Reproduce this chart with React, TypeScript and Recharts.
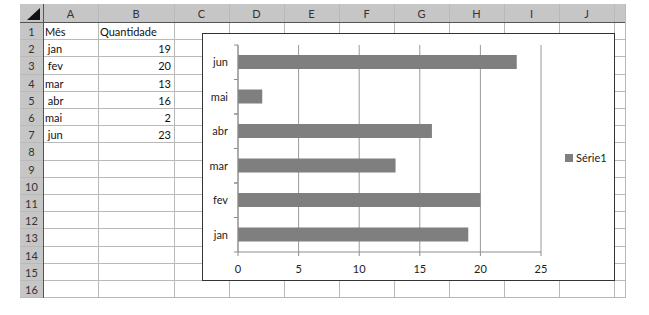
import { BarChart, Bar, XAxis, YAxis, CartesianGrid, Legend } from "recharts";

// worksheet contents
const columnLetters = ["A", "B", "C", "D", "E", "F", "G", "H", "I", "J", ""];
const rowNumbers = [1, 2, 3, 4, 5, 6, 7, 8, 9, 10, 11, 12, 13, 14, 15, 16];
const cellLabels = ["Mês", " jan", " fev", "mar", " abr", "mai", " jun"];
const cellQty = ["Quantidade", "19", "20", "13", "16", "2", "23"];

// chart data
const months = ["jan", "fev", "mar", "abr", "mai", "jun"];
const quantidade = [19, 20, 13, 16, 2, 23];
const xTicks = [0, 5, 10, 15, 20, 25];
const seriesName = "Série1";

const data = months.map((m, i) => ({ mes: m, valor: quantidade[i] }));

const FONT = "Lato, 'Open Sans', sans-serif";
const COL_X = [20, 43, 98, 174, 229, 284, 339, 394, 449, 504, 559, 614, 625];
const HEAD_TOP = 4;
const HEAD_BOT = 23;
const ROW_H = 17.2;
const GRID = "#b9b9b9";
const HEAD_BG = "#c6c6c6";

const CHART_W = 413;
const CHART_H = 248;
const PLOT_TOP = 12;
const PLOT_BOTTOM = 29;
const BAND = (CHART_H - PLOT_TOP - PLOT_BOTTOM) / months.length;

const CategoryTick = (props: any) => {
  const { x, y, payload } = props;
  const axisX = x + 10;
  return (
    <g>
      <line x1={axisX - 4} x2={axisX} y1={y - BAND / 2} y2={y - BAND / 2} stroke="#8c8c8c" />
      <line x1={axisX - 4} x2={axisX} y1={y + BAND / 2} y2={y + BAND / 2} stroke="#8c8c8c" />
      <text x={x} y={y} dy="0.35em" textAnchor="end" fontSize={11} fill="#222" fontFamily={FONT}>
        {payload.value}
      </text>
    </g>
  );
};

const LegendBox = () => (
  <div style={{ display: "flex", alignItems: "center", fontSize: 11, fontFamily: FONT, color: "#222" }}>
    <span style={{ width: 8, height: 8, background: "#7f7f7f", marginRight: 3 }} />
    {seriesName}
  </div>
);

export default function App() {
  const lastRowY = HEAD_BOT + rowNumbers.length * ROW_H;
  return (
    <div style={{ position: "absolute", left: 0, top: 0, width: 649, height: 315, background: "#fff", fontFamily: FONT, fontSize: 11, color: "#111" }}>
      {/* column header */}
      <div style={{ position: "absolute", left: COL_X[0], top: HEAD_TOP, width: COL_X[COL_X.length - 1] - COL_X[0], height: HEAD_BOT - HEAD_TOP, background: HEAD_BG }} />
      {/* row header */}
      <div style={{ position: "absolute", left: COL_X[0], top: HEAD_BOT, width: COL_X[1] - COL_X[0], height: lastRowY - HEAD_BOT, background: HEAD_BG }} />
      {/* corner triangle */}
      <svg style={{ position: "absolute", left: COL_X[0], top: HEAD_TOP }} width={23} height={19}>
        <polygon points="20,4 20,16 7,16" fill="#111" />
      </svg>
      {columnLetters.map((c, i) => (
        <div key={"c" + i} style={{ position: "absolute", left: COL_X[i + 1], top: HEAD_TOP, width: COL_X[i + 2] - COL_X[i + 1], height: HEAD_BOT - HEAD_TOP, lineHeight: `${HEAD_BOT - HEAD_TOP}px`, textAlign: "center", color: "#333" }}>
          {c}
        </div>
      ))}
      {rowNumbers.map((r, i) => (
        <div key={"r" + r} style={{ position: "absolute", left: COL_X[0], top: HEAD_BOT + i * ROW_H, width: COL_X[1] - COL_X[0], height: ROW_H, lineHeight: `${ROW_H}px`, textAlign: "center", color: "#333" }}>
          {r}
        </div>
      ))}
      {/* horizontal grid lines */}
      {rowNumbers.map((r, i) => (
        <div key={"h" + r} style={{ position: "absolute", left: COL_X[0], top: HEAD_BOT + (i + 1) * ROW_H - 1, width: COL_X[COL_X.length - 1] - COL_X[0], height: 1, background: GRID }} />
      ))}
      {/* vertical grid lines */}
      {COL_X.slice(1).map((x, i) => (
        <div key={"v" + i} style={{ position: "absolute", left: x, top: HEAD_TOP, width: 1, height: lastRowY - HEAD_TOP, background: i === 0 ? "#555" : GRID }} />
      ))}
      <div style={{ position: "absolute", left: COL_X[0], top: HEAD_BOT - 1, width: COL_X[COL_X.length - 1] - COL_X[0], height: 1, background: "#555" }} />
      {/* cell text */}
      {cellLabels.map((t, i) => (
        <div key={"a" + i} style={{ position: "absolute", left: COL_X[1] + 2, top: HEAD_BOT + i * ROW_H, height: ROW_H, lineHeight: `${ROW_H}px`, whiteSpace: "pre" }}>
          {t}
        </div>
      ))}
      {cellQty.map((t, i) => (
        <div key={"b" + i} style={{ position: "absolute", left: COL_X[2] + 2, top: HEAD_BOT + i * ROW_H, width: COL_X[3] - COL_X[2] - 5, height: ROW_H, lineHeight: `${ROW_H}px`, textAlign: i === 0 ? "left" : "right" }}>
          {t}
        </div>
      ))}
      {/* embedded chart */}
      <div style={{ position: "absolute", left: 202, top: 33, width: CHART_W, height: CHART_H, background: "#fff", border: "1px solid #333", boxSizing: "border-box" }}>
        <BarChart
          width={CHART_W - 2}
          height={CHART_H - 2}
          data={data}
          layout="vertical"
          margin={{ top: PLOT_TOP - 1, right: 73, bottom: 0, left: 0 }}
          barCategoryGap="29%"
        >
          <CartesianGrid horizontal={false} stroke="#9a9a9a" />
          <XAxis
            type="number"
            domain={[0, 25]}
            ticks={xTicks}
            height={PLOT_BOTTOM - 1}
            tickSize={4}
            tickMargin={9}
            stroke="#8c8c8c"
            tick={{ fontSize: 11, fill: "#222", fontFamily: FONT }}
          />
          <YAxis
            type="category"
            dataKey="mes"
            reversed
            width={35}
            tickSize={4}
            tickMargin={6}
            tickLine={false}
            stroke="#8c8c8c"
            tick={<CategoryTick />}
          />
          <Legend
            layout="vertical"
            align="center"
            verticalAlign="middle"
            wrapperStyle={{ left: 362, top: 117, width: "auto" }}
            content={<LegendBox />}
          />
          <Bar dataKey="valor" name={seriesName} fill="#7f7f7f" isAnimationActive={false} />
        </BarChart>
      </div>
    </div>
  );
}
